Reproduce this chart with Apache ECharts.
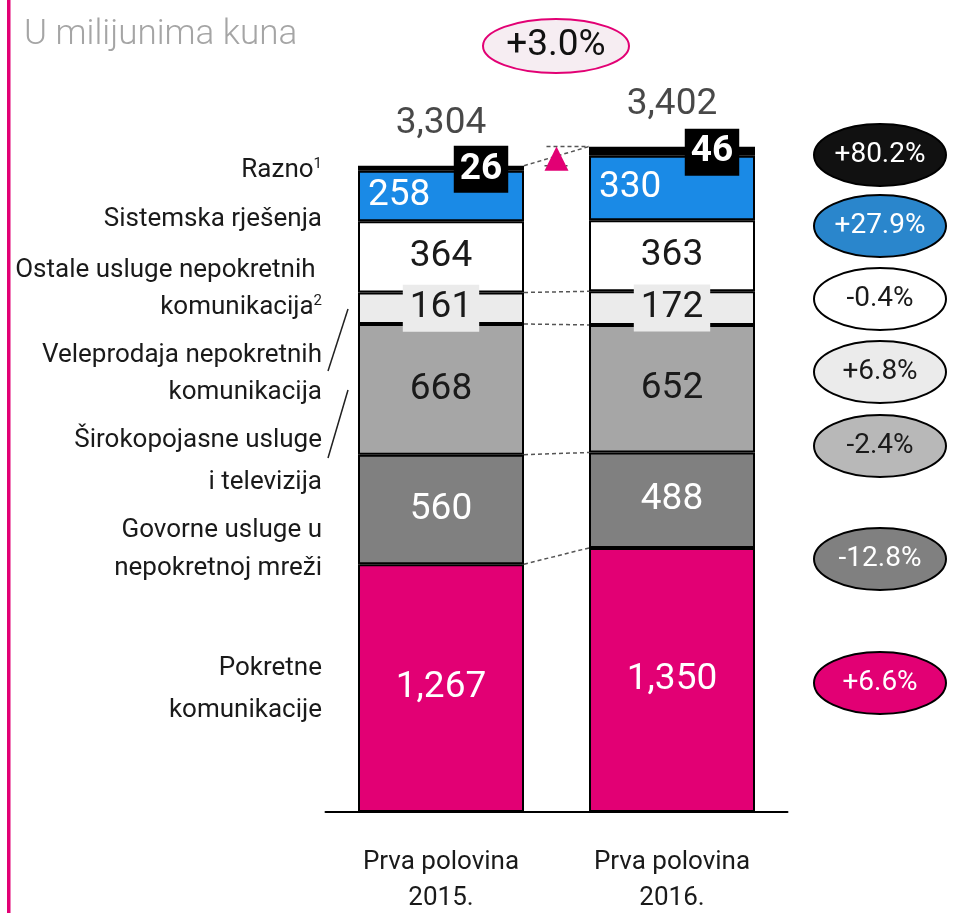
<!DOCTYPE html>
<html>
<head>
<meta charset="utf-8">
<script src="https://cdn.jsdelivr.net/npm/echarts@6/dist/echarts.min.js"></script>
<style>
html, body { margin: 0; padding: 0; background: #fff; }
#chart { width: 953px; height: 913px; }
</style>
</head>
<body>
<div id="chart"></div>
<script>
// podaci (u milijunima kuna)
var periods = ['Prva polovina\n2015.', 'Prva polovina\n2016.'];
var segmentNames = ['Pokretne komunikacije', 'Govorne usluge u nepokretnoj mreži', 'Širokopojasne usluge i televizija',
    'Veleprodaja nepokretnih komunikacija', 'Ostale usluge nepokretnih komunikacija', 'Sistemska rješenja', 'Razno'];
var pokretne = [1267, 1350];
var govorne = [560, 488];
var sirokopojasne = [668, 652];
var veleprodaja = [161, 172];
var ostale = [364, 363];
var sistemska = [258, 330];
var razno = [26, 46];
var totals = [3304, 3402];
var segmentChanges = ['+6.6%', '-12.8%', '-2.4%', '+6.8%', '-0.4%', '+27.9%', '+80.2%'];
var totalChange = '+3.0%';

var FONT = 'Roboto, "Noto Sans", sans-serif';
var segValues = [pokretne, govorne, sirokopojasne, veleprodaja, ostale, sistemska, razno];
var segColors = ['#e20074', '#808080', '#a6a6a6', '#ebebeb', '#ffffff', '#1a8ae6', '#000000'];
var segTextColors = ['#fff', '#fff', '#1a1a1a', '#1a1a1a', '#1a1a1a', '#fff', '#fff'];
var ovalColors = ['#e20074', '#808080', '#b8b8b8', '#ebebeb', '#ffffff', '#2a86cc', '#111111'];
var ovalY = [683, 559, 446, 372, 299, 226, 155];

function fmt(v) { return v.toLocaleString('en-US'); }

// kumulativne razine za isprekidane spojnice
function cumulative(n, idx) {
    var s = 0;
    for (var i = 0; i <= n; i++) { s += segValues[i][idx]; }
    return s;
}
var connectLevels = [0, 1, 2, 3].map(function (n) { return [cumulative(n, 0), cumulative(n, 1)]; });

var series = segValues.map(function (vals, i) {
    var label = {
        show: true, position: 'inside', fontFamily: FONT, fontSize: 37,
        color: segTextColors[i], formatter: function (p) { return fmt(p.value); }
    };
    if (i === 3) {
        label.backgroundColor = '#ebebeb';
        label.padding = [5, 7];
    }
    if (i === 5) {
        label.position = 'insideLeft';
        label.distance = 10;
    }
    if (i === 6) {
        label.offset = [40, 1];
        label.backgroundColor = '#000';
        label.fontWeight = 'bold';
        label.fontSize = 37;
        label.padding = [6, 6, 4, 6];
    }
    return {
        name: segmentNames[i],
        type: 'bar',
        stack: 'ukupno',
        barWidth: 166,
        data: vals,
        itemStyle: { color: segColors[i], borderColor: '#000', borderWidth: 2 },
        label: label,
        silent: true
    };
});

// ukupni iznosi iznad stupaca
series.push({
    type: 'scatter',
    symbolSize: 0,
    data: totals.map(function (v, i) { return [i, v]; }),
    label: {
        show: true, position: 'top', distance: 23, fontFamily: FONT, fontSize: 37, color: '#1a1a1a',
        formatter: function (p) { return fmt(p.value[1]); }
    },
    silent: true
});

// spojnice između stupaca + trokut rasta
series.push({
    type: 'custom',
    data: [[0, 0]],
    silent: true,
    z: 5,
    renderItem: function (params, api) {
        var half = 83;
        var dash = { stroke: '#555', lineWidth: 1.5, lineDash: [4, 3] };
        var children = connectLevels.map(function (lv) {
            var a = api.coord([0, lv[0]]);
            var b = api.coord([1, lv[1]]);
            return { type: 'line', shape: { x1: a[0] + half, y1: a[1], x2: b[0] - half, y2: b[1] }, style: dash };
        });
        var t1 = api.coord([0, totals[0]]);
        var t2 = api.coord([1, totals[1]]);
        var x1 = t1[0] + half, x2 = t2[0] - half, mid = (x1 + x2) / 2;
        children.push({ type: 'line', shape: { x1: x1, y1: t1[1], x2: x2, y2: t2[1] }, style: dash });
        children.push({ type: 'line', shape: { x1: mid - 10, y1: t2[1], x2: x2, y2: t2[1] }, style: dash });
        children.push({ type: 'line', shape: { x1: mid - 12, y1: t1[1], x2: mid + 11, y2: t1[1] }, style: dash });
        children.push({
            type: 'polygon',
            shape: { points: [[mid, t2[1]], [mid + 12, t1[1] + 5], [mid - 12, t1[1] + 5]] },
            style: { fill: '#e20074' }
        });
        return { type: 'group', children: children };
    }
});

var leftLabels = [
    ['Razno{sup|1}', 170], ['Sistemska rješenja', 219],
    ['Ostale usluge nepokretnih ', 270], ['komunikacija{sup|2}', 307],
    ['Veleprodaja nepokretnih', 355], ['komunikacija', 392],
    ['Širokopojasne usluge', 440], ['i televizija', 482],
    ['Govorne usluge u', 530], ['nepokretnoj mreži', 568],
    ['Pokretne', 668], ['komunikacije', 710]
];

var graphics = [
    { type: 'rect', shape: { x: 7, y: 0, width: 3.5, height: 913 }, style: { fill: '#e20074' } },
    { type: 'text', x: 24, y: 35, style: { text: 'U milijunima kuna', font: '300 35px ' + FONT, fill: '#a5a5a5', verticalAlign: 'middle' } },
    { type: 'ellipse', shape: { cx: 556, cy: 46, rx: 73, ry: 27 }, style: { fill: '#f6edf2', stroke: '#e20074', lineWidth: 2 } },
    { type: 'text', x: 556, y: 46, style: { text: totalChange, font: '37px ' + FONT, fill: '#111', align: 'center', verticalAlign: 'middle' } },
    { type: 'line', shape: { x1: 348, y1: 309, x2: 328, y2: 371 }, style: { stroke: '#222', lineWidth: 1.5 } },
    { type: 'line', shape: { x1: 348, y1: 390, x2: 328, y2: 458 }, style: { stroke: '#222', lineWidth: 1.5 } }
];
leftLabels.forEach(function (l) {
    graphics.push({
        type: 'text', x: 322, y: l[1],
        style: {
            text: l[0], font: '26px ' + FONT, fill: '#1a1a1a', align: 'right', verticalAlign: 'middle',
            rich: { sup: { fontFamily: 'Roboto', fontSize: 15, color: '#1a1a1a', verticalAlign: 'top' } }
        }
    });
});
segmentChanges.forEach(function (c, i) {
    graphics.push({ type: 'ellipse', shape: { cx: 880, cy: ovalY[i], rx: 66, ry: 31 }, style: { fill: ovalColors[i], stroke: '#000', lineWidth: 2 } });
    graphics.push({ type: 'text', x: 880, y: ovalY[i], style: { text: c, font: '28px ' + FONT, fill: segTextColors[i], align: 'center', verticalAlign: 'middle' } });
});

var chart = echarts.init(document.getElementById('chart'));
var option = {
    animation: false,
    backgroundColor: '#fff',
    grid: { left: 325.5, right: 165.5, top: 100, bottom: 101, outerBoundsMode: 'none' },
    xAxis: {
        type: 'category',
        data: periods,
        axisLine: { lineStyle: { color: '#000', width: 2 } },
        axisTick: { show: false },
        axisLabel: { fontFamily: FONT, fontSize: 26, color: '#1a1a1a', lineHeight: 36, margin: 32 }
    },
    yAxis: { type: 'value', min: 0, max: 3640, show: false, splitLine: { show: false } },
    series: series,
    graphic: graphics
};
chart.setOption(option);
</script>
</body>
</html>
